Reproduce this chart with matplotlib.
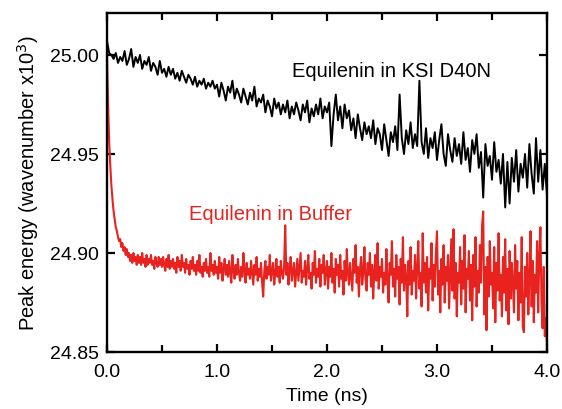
import numpy as np
import matplotlib
matplotlib.use("Agg")
import matplotlib.pyplot as plt
from matplotlib.ticker import MultipleLocator

plt.rcParams['font.family'] = ['Liberation Sans', 'DejaVu Sans']

# Peak energy in cm^-1 (KSI D40N, 0.02 ns step)
ksi_cm = [
    25007, 25001, 25000, 24998, 25001, 24996, 24999, 24997, 25002, 24995,
    24998, 25003, 24994, 24999, 24996, 25000, 24993, 24997, 24995, 24999,
    24992, 24996, 24994, 24990, 24997, 24991, 24993, 24989, 24994, 24990,
    24993, 24988, 24991, 24987, 24992, 24989, 24986, 24990, 24988, 24985,
    24989, 24984, 24987, 24985, 24988, 24983, 24986, 24984, 24987, 24983,
    24985, 24979, 24986, 24982, 24977, 24984, 24981, 24987, 24978, 24983,
    24980, 24976, 24983, 24979, 24975, 24981, 24977, 24984, 24974, 24978,
    24976, 24980, 24971, 24977, 24974, 24969, 24978, 24973, 24976, 24970,
    24975, 24971, 24977, 24968, 24974, 24970, 24976, 24972, 24967, 24975,
    24971, 24977, 24966, 24973, 24969, 24975, 24970, 24978, 24968, 24974,
    24971, 24976, 24954, 24970, 24980, 24967, 24974, 24963, 24975, 24968,
    24972, 24962, 24968, 24958, 24970, 24963, 24957, 24966, 24960, 24964,
    24958, 24967, 24955, 24963, 24960, 24952, 24965, 24957, 24949, 24961,
    24956, 24964, 24952, 24980, 24958, 24950, 24962, 24955, 24966, 24953,
    24960, 24954, 24987, 24956, 24950, 24963, 24948, 24958, 24953, 24961,
    24947, 24957, 24965, 24950, 24944, 24960, 24952, 24946, 24958, 24949,
    24955, 24945, 24961, 24947, 24953, 24941, 24957, 24950, 24960, 24943,
    24951, 24928, 24955, 24944, 24949, 24937, 24956, 24941, 24947, 24935,
    24950, 24923, 24946, 24925, 24948, 24936, 24952, 24931, 24945, 24938,
    24950, 24933, 24955, 24940, 24930, 24958, 24936, 24952, 24932, 24945,
    24929,
]

# Peak energy in cm^-1 (Buffer, 0.01 ns step)
buffer_cm = [
    25000, 24975, 24956, 24944, 24934, 24927, 24921, 24917, 24913, 24911,
    24908, 24906, 24907, 24903, 24905, 24901, 24903, 24899, 24902, 24898,
    24900, 24896, 24899, 24895, 24900, 24896, 24898, 24894, 24899, 24895,
    24898, 24894, 24900, 24895, 24897, 24893, 24899, 24894, 24897, 24895,
    24899, 24894, 24896, 24892, 24898, 24895, 24893, 24898, 24894, 24897,
    24893, 24898, 24894, 24891, 24897, 24893, 24899, 24892, 24896, 24893,
    24897, 24892, 24895, 24890, 24898, 24893, 24896, 24891, 24899, 24893,
    24895, 24890, 24897, 24892, 24894, 24889, 24896, 24892, 24898, 24891,
    24894, 24889, 24896, 24891, 24899, 24890, 24893, 24888, 24895, 24891,
    24897, 24890, 24893, 24888, 24900, 24891, 24894, 24889, 24896, 24890,
    24893, 24887, 24898, 24890, 24895, 24886, 24892, 24897, 24889, 24894,
    24888, 24896, 24890, 24885, 24899, 24891, 24887, 24894, 24889, 24897,
    24890, 24886, 24893, 24888, 24900, 24891, 24885, 24895, 24889, 24892,
    24887, 24896, 24890, 24884, 24894, 24889, 24898, 24886, 24892, 24888,
    24895, 24885, 24878, 24891, 24896, 24887, 24893, 24889, 24899, 24886,
    24891, 24895, 24884, 24890, 24897, 24888, 24893, 24885, 24896, 24890,
    24887, 24893, 24914, 24889, 24895, 24884, 24892, 24898, 24886, 24891,
    24895, 24883, 24890, 24897, 24886, 24893, 24900, 24885, 24891, 24888,
    24896, 24884, 24892, 24899, 24887, 24890, 24882, 24895, 24889, 24901,
    24885, 24892, 24888, 24897, 24883, 24894, 24890, 24899, 24884, 24891,
    24896, 24882, 24893, 24888, 24900, 24885, 24892, 24880, 24897, 24889,
    24894, 24883, 24899, 24887, 24891, 24879, 24896, 24886, 24902, 24890,
    24884, 24895, 24888, 24881, 24897, 24890, 24904, 24885, 24893, 24878,
    24892, 24898, 24884, 24890, 24903, 24887, 24881, 24895, 24889, 24900,
    24883, 24894, 24877, 24891, 24899, 24886, 24905, 24882, 24893, 24888,
    24897, 24880, 24890, 24884, 24902, 24887, 24875, 24895, 24889, 24906,
    24883, 24892, 24878, 24899, 24887, 24893, 24874, 24897, 24885, 24908,
    24881, 24894, 24888, 24868, 24896, 24884, 24903, 24879, 24891, 24886,
    24899, 24877, 24893, 24906, 24882, 24890, 24873, 24910, 24885, 24895,
    24880, 24898, 24871, 24892, 24887, 24905, 24876, 24894, 24883, 24900,
    24911, 24879, 24891, 24870, 24897, 24884, 24904, 24875, 24893, 24886,
    24899, 24872, 24889, 24907, 24881, 24912, 24877, 24895, 24868, 24890,
    24885, 24903, 24874, 24896, 24882, 24909, 24870, 24892, 24887, 24901,
    24876, 24894, 24866, 24899, 24883, 24908, 24873, 24891, 24880, 24904,
    24885, 24914, 24921, 24869, 24893, 24861, 24898, 24878, 24906, 24884,
    24890, 24872, 24903, 24865, 24895, 24881, 24910, 24876, 24889, 24868,
    24898, 24880, 24907, 24871, 24892, 24864, 24901, 24877, 24895, 24884,
    24870, 24904, 24882, 24896, 24866, 24890, 24875, 24908, 24863, 24860,
    24893, 24878, 24900, 24869, 24887, 24911, 24873, 24896, 24865, 24889,
    24880, 24906, 24870, 24899, 24913, 24876, 24862, 24893, 24858, 24867,
    24853,
]

t_end_ns = 4.0
ksi_label = "Equilenin in KSI D40N"
buffer_label = "Equilenin in Buffer"
x_ticks = [0.0, 1.0, 2.0, 3.0, 4.0]
y_ticks = [24.85, 24.90, 24.95, 25.00]

ksi = np.array(ksi_cm) / 1000.0
buf = np.array(buffer_cm) / 1000.0
t_ksi = np.linspace(0, t_end_ns, len(ksi))
t_buf = np.linspace(0, t_end_ns, len(buf))

W, H = 562, 410
fig = plt.figure(figsize=(W / 100, H / 100), dpi=100)
L, R, B, T = 107, 547, 353, 14
ax = fig.add_axes([L / W, 1 - B / H, (R - L) / W, (B - T) / H])

red = '#e8231f'
ax.plot(t_buf, buf, color=red, lw=1.5)
ax.plot(t_ksi, ksi, color='black', lw=1.4)

ax.set_xlim(0, 4.0)
ax.set_ylim(24.85, 25.0212)
ax.set_xticks(x_ticks)
ax.set_xticklabels([f"{v:.1f}" for v in x_ticks])
ax.set_yticks(y_ticks)
ax.set_yticklabels([f"{v:.2f}" for v in y_ticks])
ax.xaxis.set_minor_locator(MultipleLocator(0.5))
ax.tick_params(which='both', direction='in', top=True, right=True,
               labelsize=14, width=1.6)
ax.tick_params(axis='x', pad=8)
ax.tick_params(axis='y', pad=6, labelright=False)
ax.tick_params(which='major', length=6)
ax.tick_params(which='minor', length=5)
for s in ax.spines.values():
    s.set_linewidth(1.7)

ax.set_xlabel("Time (ns)", fontsize=14, labelpad=5)
ax.set_ylabel(r"Peak energy (wavenumber x10$^3$)", fontsize=14.5, labelpad=6)

ax.text(2.59, 24.992, ksi_label, color='black', fontsize=14.5,
        ha='center', va='center')
ax.text(1.49, 24.920, buffer_label, color=red, fontsize=14.5,
        ha='center', va='center')

fig.savefig("out.png", dpi=100)
